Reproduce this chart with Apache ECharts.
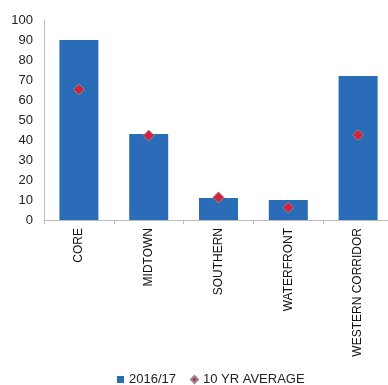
<!DOCTYPE html>
<html><head><meta charset="utf-8">
<script src="https://cdn.jsdelivr.net/npm/echarts@6/dist/echarts.min.js"></script>
<style>html,body{margin:0;padding:0;background:#fff;overflow:hidden}#c{width:393px;height:385px}</style>
</head><body><div id="c"></div>
<script>
const categories = ['CORE', 'MIDTOWN', 'SOUTHERN', 'WATERFRONT', 'WESTERN CORRIDOR'];
const values2016 = [90, 43, 11, 10, 72];
const tenYrAvg = [65.3, 42.2, 11.3, 6.2, 42.5];
const seriesNames = ['2016/17', '10 YR AVERAGE'];

const chart = echarts.init(document.getElementById('c'), null, {renderer: 'canvas'});
chart.setOption({
  animation: false,
  textStyle: {fontFamily: 'Liberation Sans, Arial, sans-serif'},
  grid: {left: 44, top: 20, right: 0, bottom: 165, containLabel: false},
  legend: {
    left: 112, top: 368,
    itemWidth: 7, itemHeight: 7, itemGap: 14,
    textStyle: {fontSize: 13, color: '#222', fontFamily: 'Liberation Sans, Arial, sans-serif'},
    data: [
      {name: seriesNames[0], icon: 'rect'},
      {name: seriesNames[1], icon: 'diamond'}
    ]
  },
  xAxis: {
    type: 'category', data: categories,
    axisLine: {lineStyle: {color: '#bdbdbd', width: 1}},
    axisTick: {show: true, length: 4, lineStyle: {color: '#bdbdbd'}},
    axisLabel: {rotate: 90, fontSize: 12, color: '#111', margin: 8, interval: 0}
  },
  yAxis: {
    type: 'value', min: 0, max: 100, interval: 10,
    axisLine: {show: true, lineStyle: {color: '#bdbdbd'}},
    axisTick: {show: false},
    splitLine: {show: false},
    axisLabel: {fontSize: 13, color: '#222', margin: 11}
  },
  series: [
    {name: seriesNames[0], type: 'bar', data: values2016, barWidth: 39,
     itemStyle: {color: '#2b6cb8'}},
    {name: seriesNames[1], type: 'scatter', data: tenYrAvg, symbol: 'diamond', symbolSize: 11,
     itemStyle: {color: '#d4213d', borderColor: '#8c8c8c', borderWidth: 1, opacity: 1}, z: 5}
  ]
});
</script></body></html>
